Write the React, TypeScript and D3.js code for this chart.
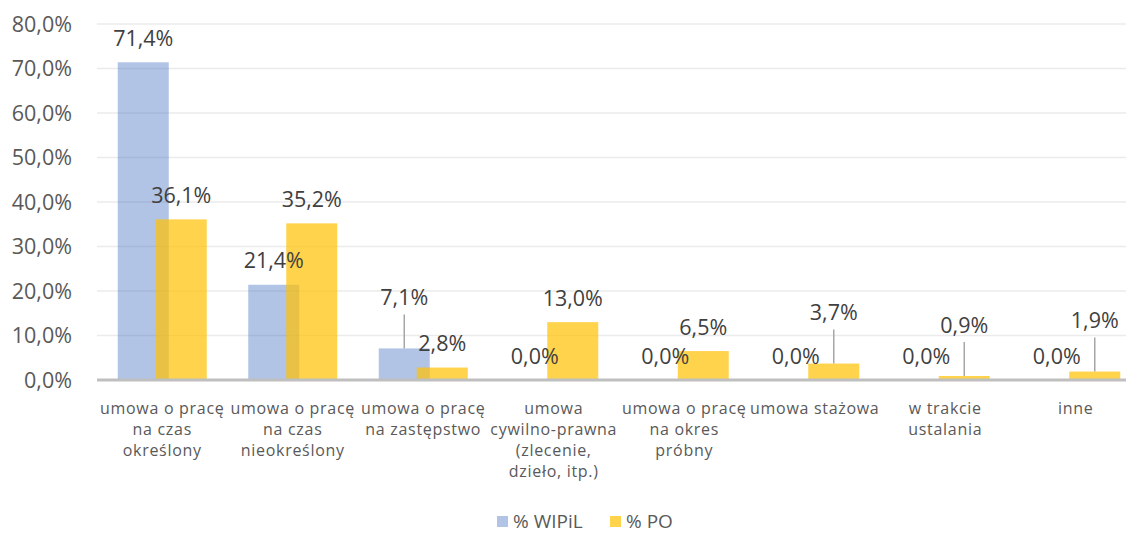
import React from "react";
import * as d3 from "d3";

const categories: string[][] = [
  ["umowa o pracę", "na czas", "określony"],
  ["umowa o pracę", "na czas", "nieokreślony"],
  ["umowa o pracę", "na zastępstwo"],
  ["umowa", "cywilno-prawna", "(zlecenie,", "dzieło, itp.)"],
  ["umowa o pracę", "na okres", "próbny"],
  ["umowa stażowa"],
  ["w trakcie", "ustalania"],
  ["inne"],
];
const seriesNames = ["% WIPiL", "% PO"];
const wipil = [71.4, 21.4, 7.1, 0.0, 0.0, 0.0, 0.0, 0.0];
const po = [36.1, 35.2, 2.8, 13.0, 6.5, 3.7, 0.9, 1.9];
// labels that Excel lifted with a leader line
const wipilLeader = [false, false, true, false, false, false, false, false];
const poLeader = [false, false, false, false, false, true, true, true];
const yTicks = [0, 10, 20, 30, 40, 50, 60, 70, 80];

const W = 1126, H = 533;
const left = 97, right = 1141, top = 24, bottom = 380;
const FONT = "'Open Sans', 'Noto Sans', sans-serif";

export default function App() {
  const x = d3.scaleBand<number>().domain(d3.range(categories.length)).range([left, right]);
  const y = d3.scaleLinear().domain([0, 80]).range([bottom, top]);
  const bw = 51;
  const off = 19;
  const fmt = (v: number) => v.toFixed(1).replace(".", ",") + "%";
  const series = [
    { vals: wipil, leader: wipilLeader, color: "#4472C4", op: 0.42, dx: -off },
    { vals: po, leader: poLeader, color: "#FFC000", op: 0.7, dx: off },
  ];
  return (
    <svg width={W} height={H} style={{ position: "fixed", left: 0, top: 0, background: "#fff" }}>
      {yTicks.map((t) => (
        <g key={t}>
          {t > 0 && <line x1={left} x2={W} y1={y(t)} y2={y(t)} stroke="#ebebeb" strokeWidth={1.5} />}
          <text x={72} y={y(t)} dy="0.35em" textAnchor="end" fontFamily={FONT} fontSize={21.5} fill="#595959">
            {fmt(t)}
          </text>
        </g>
      ))}
      {series.map((s, si) =>
        s.vals.map((v, i) => {
          const cx = (x(i) as number) + x.bandwidth() / 2 + s.dx;
          return (
            <rect key={`${si}-${i}`} x={cx - bw / 2} y={y(v)} width={bw} height={bottom - y(v)} fill={s.color} fillOpacity={s.op} />
          );
        })
      )}
      <line x1={left} x2={W} y1={bottom} y2={bottom} stroke="#bfbfbf" strokeWidth={3} />
      {series.map((s, si) =>
        s.vals.map((v, i) => {
          const cx = (x(i) as number) + x.bandwidth() / 2 + s.dx;
          const lift = s.leader[i] ? 51 : 24;
          const ly = y(v) - lift;
          return (
            <g key={`l${si}-${i}`}>
              {s.leader[i] && <line x1={cx} x2={cx} y1={ly + 17} y2={y(v)} stroke="#a6a6a6" strokeWidth={1.5} />}
              <text x={cx} y={ly} dy="0.35em" textAnchor="middle" fontFamily={FONT} fontSize={21.5} fill="#404040">
                {fmt(v)}
              </text>
            </g>
          );
        })
      )}
      {categories.map((lines, i) => {
        const cx = (x(i) as number) + x.bandwidth() / 2;
        return (
          <text key={`c${i}`} textAnchor="middle" fontFamily={FONT} fontSize={16} fill="#595959" letterSpacing={0.7}>
            {lines.map((ln, k) => (
              <tspan key={k} x={cx} y={408 + k * 21} dy="0.35em">
                {ln}
              </tspan>
            ))}
          </text>
        );
      })}
      {seriesNames.map((n, i) => {
        const lx = i === 0 ? 497 : 610;
        return (
          <g key={n}>
            <rect x={lx} y={516} width={11} height={11} fill={series[i].color} fillOpacity={series[i].op} />
            <text x={lx + 16} y={521} dy="0.35em" fontFamily={FONT} fontSize={19} fill="#595959">
              {n}
            </text>
          </g>
        );
      })}
    </svg>
  );
}
